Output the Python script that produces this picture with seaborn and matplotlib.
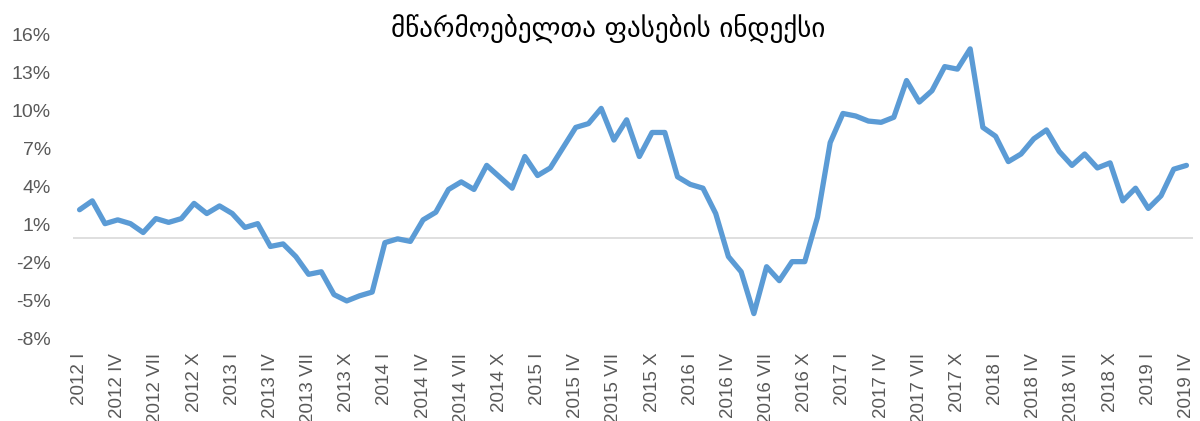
import numpy as np
import pandas as pd
import matplotlib
matplotlib.use("Agg")
import matplotlib.pyplot as plt
import seaborn as sns

# Data: producer price index, y/y change in %, monthly 2012 I .. 2019 IV
title = "მწარმოებელთა ფასების ინდექსი"
ppi = [
    2.2, 2.9, 1.1, 1.4, 1.1, 0.4, 1.5, 1.2, 1.5, 2.7, 1.9, 2.5,      # 2012
    1.9, 0.8, 1.1, -0.7, -0.5, -1.5, -2.9, -2.7, -4.5, -5.0, -4.6, -4.3,  # 2013
    -0.4, -0.1, -0.3, 1.4, 2.0, 3.8, 4.4, 3.8, 5.7, 4.8, 3.9, 6.4,   # 2014
    4.9, 5.5, 7.1, 8.7, 9.0, 10.2, 7.7, 9.3, 6.4, 8.3, 8.3, 4.8,     # 2015
    4.2, 3.9, 1.9, -1.5, -2.7, -6.0, -2.3, -3.4, -1.9, -1.9, 1.6, 7.5,  # 2016
    9.8, 9.6, 9.2, 9.1, 9.5, 12.4, 10.7, 11.6, 13.5, 13.3, 14.9, 8.7,  # 2017
    8.0, 6.0, 6.6, 7.8, 8.5, 6.8, 5.7, 6.6, 5.5, 5.9, 2.9, 3.9,      # 2018
    2.3, 3.3, 5.4, 5.7,                                              # 2019
]
tick_labels = [
    "2012 I", "2012 IV", "2012 VII", "2012 X",
    "2013 I", "2013 IV", "2013 VII", "2013 X",
    "2014 I", "2014 IV", "2014 VII", "2014 X",
    "2015 I", "2015 IV", "2015 VII", "2015 X",
    "2016 I", "2016 IV", "2016 VII", "2016 X",
    "2017 I", "2017 IV", "2017 VII", "2017 X",
    "2018 I", "2018 IV", "2018 VII", "2018 X",
    "2019 I", "2019 IV",
]
y_ticks = [-8, -5, -2, 1, 4, 7, 10, 13, 16]

df = pd.DataFrame({"month": np.arange(len(ppi)), "ppi": ppi})

sns.set_style("white")
plt.rcParams["font.family"] = ["Liberation Sans", "DejaVu Sans"]

fig = plt.figure(figsize=(12, 4.21), dpi=100)
ax = fig.add_axes([0.061, 0.195, 0.933, 0.722])

ax.axhline(0, color="#d9d9d9", linewidth=1.2, zorder=1)
sns.lineplot(data=df, x="month", y="ppi", ax=ax, color="#5b9bd5",
             linewidth=3.8, zorder=2)

ax.set_xlim(-0.5, len(ppi) - 0.5)
ax.set_ylim(-8, 16)
ax.set_xticks(range(0, len(ppi), 3))
ax.set_xticklabels(tick_labels, rotation=90, fontsize=13.5, color="#595959")
ax.set_yticks(y_ticks)
ax.set_yticklabels([f"{v}%" for v in y_ticks], fontsize=14, color="#595959")
ax.tick_params(axis="x", length=0, pad=10)
ax.tick_params(axis="y", length=0, pad=16)
ax.set_xlabel("")
ax.set_ylabel("")
for s in ax.spines.values():
    s.set_visible(False)

fig.text(0.507, 0.93, title, ha="center", va="center", fontsize=19.5,
         color="black", family=["DejaVu Sans"])

fig.savefig("out.png", dpi=100)
